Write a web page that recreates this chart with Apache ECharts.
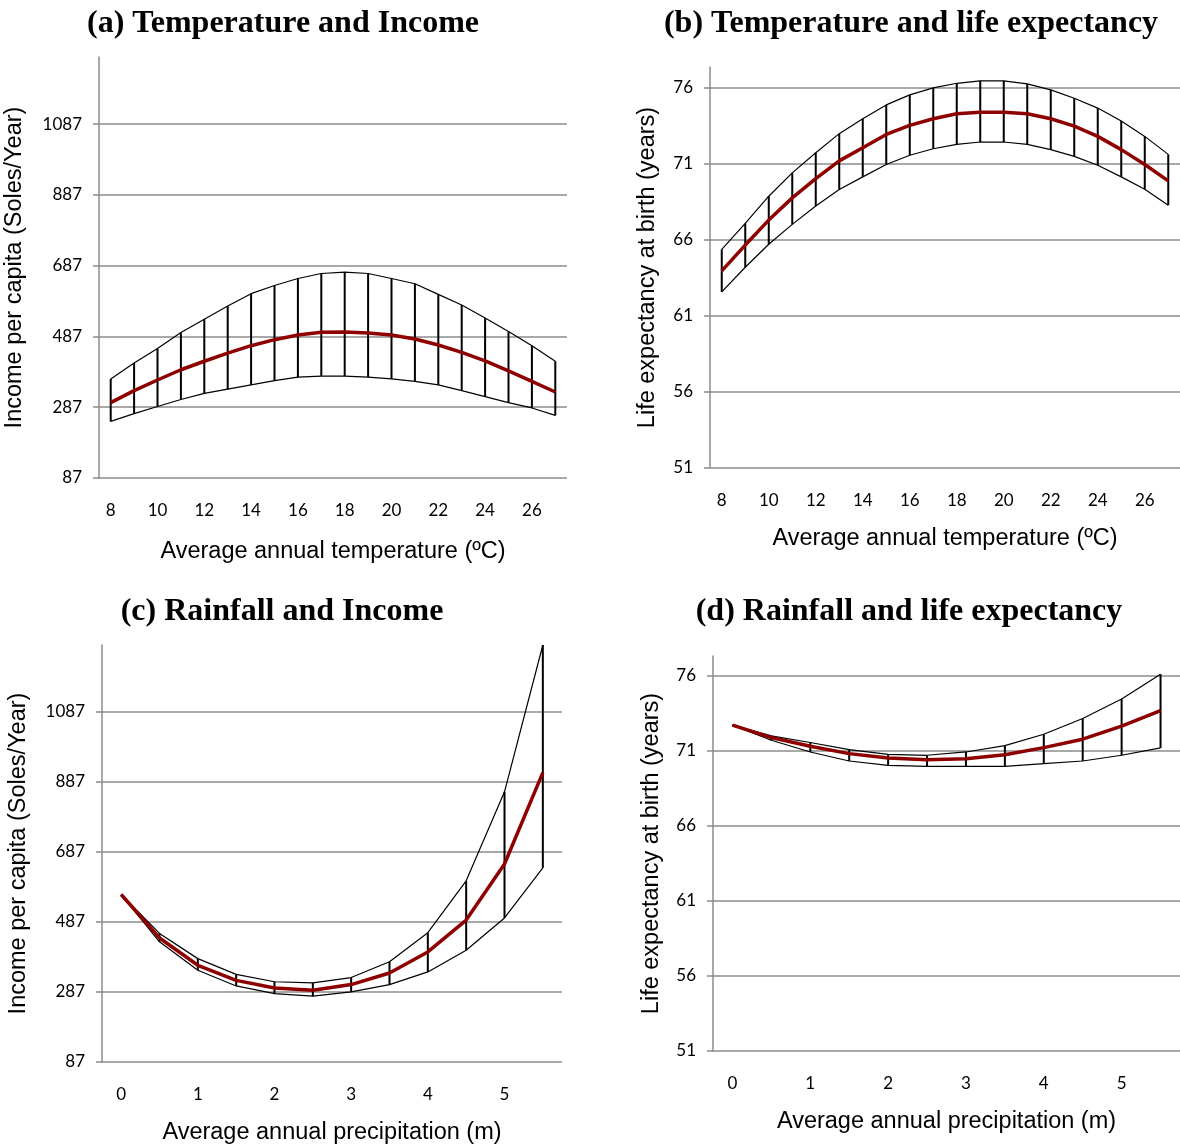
<!DOCTYPE html>
<html>
<head>
<meta charset="utf-8">
<title>Climate, income and life expectancy</title>
<script src="https://cdn.jsdelivr.net/npm/echarts@6/dist/echarts.min.js"></script>
<style>
  html, body { margin: 0; padding: 0; background: #ffffff; }
  #chart { width: 1180px; height: 1147px; }
</style>
</head>
<body>
<div id="chart"></div>
<script>
// Categories
const tempCats = ['8','9','10','11','12','13','14','15','16','17','18','19','20','21','22','23','24','25','26','27'];
const rainCats = ['0','0.5','1','1.5','2','2.5','3','3.5','4','4.5','5','5.5'];

// Tick labels
const incomeTicks = [87, 287, 487, 687, 887, 1087];
const lifeTicks = [51, 56, 61, 66, 71, 76];

// (a) Temperature and income: estimate with lower / upper bounds
const incomeTempMid  = [300, 334, 364, 393, 417, 440, 461, 478, 491, 499, 500, 497, 491, 480, 463, 442, 418, 390, 360, 330];
const incomeTempHigh = [367, 412, 453, 498, 536, 573, 608, 631, 651, 665, 669, 665, 651, 636, 606, 576, 539, 501, 461, 417];
const incomeTempLow  = [247, 269, 289, 309, 326, 338, 350, 362, 372, 375, 375, 372, 367, 360, 350, 334, 317, 300, 285, 264];

// (b) Temperature and life expectancy
const lifeTempMid  = [63.95, 65.65, 67.29, 68.75, 70.02, 71.18, 72.05, 72.92, 73.51, 73.95, 74.28, 74.38, 74.38, 74.28, 73.95, 73.47, 72.79, 71.92, 70.94, 69.87];
const lifeTempHigh = [65.37, 67.07, 68.86, 70.39, 71.72, 72.97, 73.95, 74.86, 75.52, 75.98, 76.28, 76.44, 76.44, 76.24, 75.85, 75.30, 74.65, 73.80, 72.79, 71.61];
const lifeTempLow  = [62.57, 64.19, 65.70, 67.01, 68.21, 69.30, 70.13, 70.94, 71.55, 71.98, 72.27, 72.42, 72.42, 72.27, 71.92, 71.48, 70.89, 70.13, 69.32, 68.27];

// (c) Rainfall and income
const incomeRainMid  = [565, 441, 363, 320, 298, 292, 308, 341, 401, 492, 652, 913];
const incomeRainHigh = [565, 454, 382, 337, 316, 313, 328, 373, 456, 604, 858, 1277];
const incomeRainLow  = [565, 430, 349, 304, 282, 275, 287, 308, 344, 406, 498, 641];

// (d) Rainfall and life expectancy
const lifeRainMid  = [72.70, 71.87, 71.29, 70.80, 70.51, 70.40, 70.46, 70.73, 71.20, 71.76, 72.63, 73.66];
const lifeRainHigh = [72.70, 71.98, 71.54, 71.07, 70.75, 70.69, 70.91, 71.33, 72.09, 73.14, 74.44, 76.09];
const lifeRainLow  = [72.70, 71.69, 70.91, 70.31, 70.02, 69.95, 69.95, 69.95, 70.13, 70.31, 70.69, 71.18];

const GRID_GRAY = '#8c8c8c';
const RED = '#8e0000';
const TICK_FONT = 'Lato';
const NAME_FONT = 'Liberation Sans';

const panels = [
  { title: '(a) Temperature and Income', tx: 278, ty: 3,
    grid: { left: 99, top: 57, width: 468, height: 421 },
    cats: tempCats, mid: incomeTempMid, high: incomeTempHigh, low: incomeTempLow,
    yMin: 87, yMax: 1277, yTicks: incomeTicks, xGap: 62, yGap: 72,
    xName: 'Average annual temperature (\u00baC)', yName: 'Income per capita (Soles/Year)' },
  { title: '(b) Temperature and life expectancy', tx: 906, ty: 3,
    grid: { left: 710, top: 67, width: 470, height: 401 },
    cats: tempCats, mid: lifeTempMid, high: lifeTempHigh, low: lifeTempLow,
    yMin: 51, yMax: 77.35, yTicks: lifeTicks, xGap: 59, yGap: 50,
    xName: 'Average annual temperature (\u00baC)', yName: 'Life expectancy at birth (years)' },
  { title: '(c) Rainfall and Income', tx: 277, ty: 591,
    grid: { left: 102, top: 645, width: 460, height: 417 },
    cats: rainCats, mid: incomeRainMid, high: incomeRainHigh, low: incomeRainLow,
    yMin: 87, yMax: 1277, yTicks: incomeTicks, xGap: 59, yGap: 71,
    xName: 'Average annual precipitation (m)', yName: 'Income per capita (Soles/Year)' },
  { title: '(d) Rainfall and life expectancy', tx: 904, ty: 591,
    grid: { left: 713, top: 656, width: 467, height: 395 },
    cats: rainCats, mid: lifeRainMid, high: lifeRainHigh, low: lifeRainLow,
    yMin: 51, yMax: 77.3, yTicks: lifeTicks, xGap: 59, yGap: 49,
    xName: 'Average annual precipitation (m)', yName: 'Life expectancy at birth (years)' }
];

const option = {
  animation: false,
  backgroundColor: '#ffffff',
  title: [], grid: [], xAxis: [], yAxis: [], series: []
};

panels.forEach((p, i) => {
  option.title.push({
    text: p.title, left: p.tx, top: p.ty, textAlign: 'center',
    textStyle: { fontFamily: 'Liberation Serif', fontWeight: 'bold', fontSize: 32, color: '#000' }
  });
  option.grid.push(Object.assign({ containLabel: false }, p.grid));
  option.xAxis.push({
    type: 'category', gridIndex: i, data: p.cats, boundaryGap: true,
    axisLine: { show: false }, axisTick: { show: false },
    axisLabel: { interval: 1, margin: 24, fontFamily: TICK_FONT, fontSize: 17, color: '#000' },
    name: p.xName, nameLocation: 'middle', nameGap: p.xGap,
    nameTextStyle: { fontFamily: NAME_FONT, fontSize: 23.5, color: '#000' }
  });
  option.yAxis.push({
    type: 'value', gridIndex: i, min: p.yMin, max: p.yMax,
    axisLine: { show: true, lineStyle: { color: GRID_GRAY, width: 1.5 } },
    axisTick: { show: true, inside: false, length: 6, customValues: p.yTicks, lineStyle: { color: GRID_GRAY, width: 1.5 } },
    axisLabel: { customValues: p.yTicks, margin: 17, fontFamily: TICK_FONT, fontSize: 17, color: '#000',
                 formatter: v => String(v) },
    splitLine: { show: true, lineStyle: { color: GRID_GRAY, width: 1.5 } },
    name: p.yName, nameLocation: 'middle', nameGap: p.yGap, nameRotate: 90,
    nameTextStyle: { fontFamily: NAME_FONT, fontSize: 23.5, color: '#000' }
  });

  // vertical bars joining the lower and upper bound at each category
  option.series.push({
    type: 'custom', xAxisIndex: i, yAxisIndex: i, z: 2, silent: true,
    encode: { x: 0, y: [1, 2] },
    data: p.cats.map((c, k) => [k, p.low[k], p.high[k]]),
    renderItem: (params, api) => {
      const a = api.coord([api.value(0), api.value(1)]);
      const b = api.coord([api.value(0), api.value(2)]);
      return { type: 'line', shape: { x1: a[0], y1: a[1], x2: b[0], y2: b[1] },
               style: { stroke: '#000', lineWidth: 2 } };
    }
  });
  [p.high, p.low].forEach(arr => {
    option.series.push({
      type: 'line', xAxisIndex: i, yAxisIndex: i, data: arr, z: 2,
      symbol: 'none', silent: true,
      lineStyle: { color: '#000', width: 1.2 }
    });
  });
  option.series.push({
    type: 'line', xAxisIndex: i, yAxisIndex: i, data: p.mid, z: 3,
    symbol: 'none', silent: true,
    lineStyle: { color: RED, width: 3.5 }
  });
});

const chart = echarts.init(document.getElementById('chart'), null, { renderer: 'canvas' });
chart.setOption(option);
</script>
</body>
</html>
